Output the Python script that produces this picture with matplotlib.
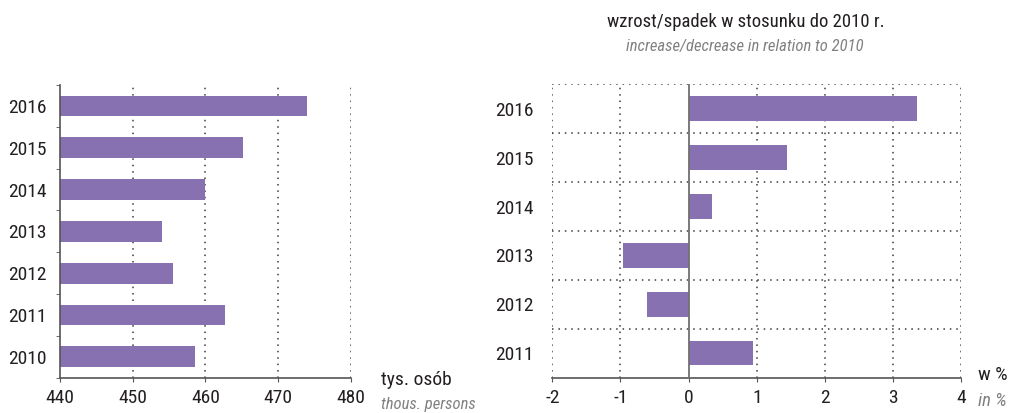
import matplotlib.pyplot as plt
import numpy as np

plt.rcParams['font.family'] = ['Roboto Condensed', 'DejaVu Sans']

years = ['2010', '2011', '2012', '2013', '2014', '2015', '2016']
persons = [458.5, 462.7, 455.6, 454.0, 460.0, 465.1, 473.9]

change_years = ['2011', '2012', '2013', '2014', '2015', '2016']
change_pct = [0.95, -0.61, -0.97, 0.35, 1.44, 3.35]

bar_color = '#8771b0'
text_color = '#231f20'
gray_text = '#808080'
grid_color = '#3a3a3a'
dots = (0, (1, 3.2))
fs = 14

fig = plt.figure(figsize=(10.13, 4.13), dpi=100)

# left panel - absolute values
ax1 = fig.add_axes([0.0592, 0.0855, 0.2873, 0.7085])
y1 = np.arange(len(years))
ax1.barh(y1, [p - 440 for p in persons], left=440, height=0.5, color=bar_color, zorder=2)
ax1.set_xlim(440, 480)
ax1.set_ylim(-0.5, len(years) - 0.5)
ax1.set_xticks([440, 450, 460, 470, 480])
ax1.set_yticks(y1)
ax1.set_yticklabels(years)
ax1.set_yticks(np.arange(-0.5, len(years), 1.0), minor=True)
for x in [450, 460, 470, 480]:
    ax1.axvline(x, color=grid_color, lw=1.1, linestyle=dots, zorder=1)
for s in ['top', 'right']:
    ax1.spines[s].set_visible(False)
for s in ['left', 'bottom']:
    ax1.spines[s].set_color('#555555')
    ax1.spines[s].set_linewidth(1.2)
ax1.tick_params(axis='y', which='major', length=0, pad=9.5, labelsize=fs, labelcolor=text_color)
ax1.tick_params(axis='y', which='minor', length=3, color='#555555')
ax1.tick_params(axis='x', length=3, pad=5, labelsize=fs, labelcolor=text_color, color='#555555')

fig.text(381 / 1013, 1 - 380 / 413, 'tys. osób', fontsize=fs, color=text_color, va='center', ha='left')
fig.text(381 / 1013, 1 - 405 / 413, 'thous. persons', fontsize=12, color=gray_text,
         style='italic', va='center', ha='left')

# right panel - change vs 2010
ax2 = fig.add_axes([0.5452, 0.0855, 0.4038, 0.7105])
y2 = np.arange(len(change_years))
ax2.barh(y2, change_pct, height=0.5, color=bar_color, zorder=2)
ax2.set_xlim(-2, 4)
ax2.set_ylim(-0.5, len(change_years) - 0.5)
ax2.set_xticks(range(-2, 5))
ax2.set_xticklabels([str(v) for v in range(-2, 5)])
ax2.set_yticks(y2)
ax2.set_yticklabels(change_years)
for x in [-2, -1, 1, 2, 3, 4]:
    ax2.axvline(x, color=grid_color, lw=1.1, linestyle=dots, zorder=1)
for yb in np.arange(0.5, len(change_years), 1.0):
    ax2.axhline(yb, color=grid_color, lw=1.1, linestyle=dots, zorder=1)
ax2.axvline(0, color='#707070', lw=1.3, zorder=3)
for s in ['top', 'right', 'left']:
    ax2.spines[s].set_visible(False)
ax2.spines['bottom'].set_color('#555555')
ax2.spines['bottom'].set_linewidth(1.2)
ax2.tick_params(axis='y', length=0, pad=13.7, labelsize=fs, labelcolor=text_color)
ax2.tick_params(axis='x', length=3, pad=5, labelsize=fs, labelcolor=text_color, color='#555555')

fig.text(978 / 1013, 1 - 375 / 413, 'w %', fontsize=fs, color=text_color, va='center', ha='left')
fig.text(978 / 1013, 1 - 401 / 413, 'in %', fontsize=13.5, color=gray_text,
         style='italic', va='center', ha='left')

fig.text(746 / 1013, 1 - 22 / 413, 'wzrost/spadek w stosunku do 2010 r.', fontsize=13.5,
         color=text_color, va='center', ha='center')
fig.text(745 / 1013, 1 - 47 / 413, 'increase/decrease in relation to 2010', fontsize=12,
         color=gray_text, style='italic', va='center', ha='center')

fig.savefig('out.png', dpi=100)
